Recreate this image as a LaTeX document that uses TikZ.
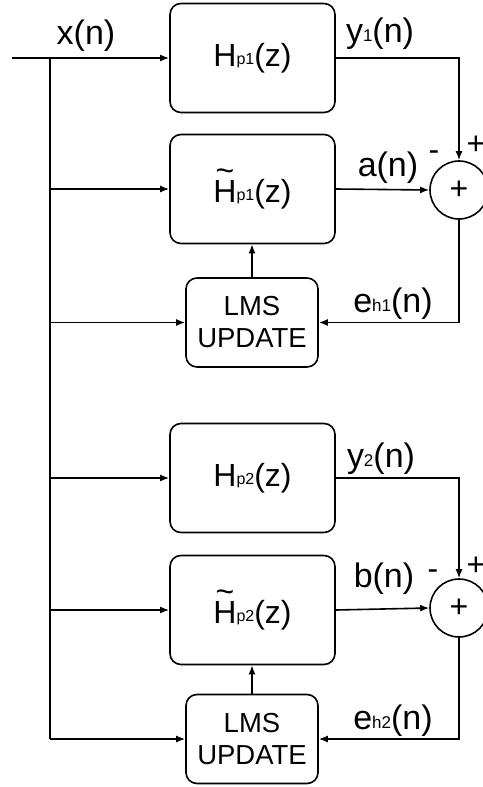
\documentclass[tikz,border=0pt]{standalone}
\usepackage{fontspec}
\setmainfont{Liberation Sans}
\usetikzlibrary{arrows.meta}
\newcommand\tH{{\setbox0\hbox{H}\rlap{\hbox to \wd0{\hss\raisebox{0.64em}{\char"007E}\hss}}H}}
\newcommand\sbx[1]{\raisebox{1.5pt}{\fontsize{16}{16}\selectfont #1}}
\newcommand\sbl[1]{\raisebox{1pt}{\fontsize{17}{17}\selectfont #1}}
\begin{document}
\begin{tikzpicture}[x=1pt,y=-1pt,
  blk/.style={draw,line width=1.6pt,rounded corners=11pt,minimum width=165pt,minimum height=109pt,inner sep=0pt,font=\fontsize{32}{36}\selectfont},
  lms/.style={draw,line width=1.6pt,rounded corners=11pt,minimum width=132pt,minimum height=89pt,inner sep=0pt,align=center,font=\fontsize{27.5}{32}\selectfont},
  sumc/.style={draw,circle,line width=1.6pt,minimum size=58pt,inner sep=0pt,font=\fontsize{32}{32}\selectfont},
  lbl/.style={font=\fontsize{34}{38}\selectfont,inner sep=0pt,anchor=base},
  sgn/.style={font=\fontsize{32}{32}\selectfont,inner sep=0pt},
  wire/.style={line width=1.6pt},
  arr/.style={wire,-{Latex[length=9pt,width=7pt]}}]
\useasboundingbox (0,0) rectangle (482,787);
% nodes
\node[blk] (Hp1) at (252.5,58) {H\sbx{p1}(z)};
\node[blk] (Ht1) at (252.5,189) {\tH\sbx{p1}(z)};
\node[lms] (L1) at (252,322.5) {LMS\\UPDATE};
\node[sumc] (S1) at (459,190) {+};
\node[blk] (Hp2) at (252.5,478) {H\sbx{p2}(z)};
\node[blk] (Ht2) at (252.5,610) {\tH\sbx{p2}(z)};
\node[lms] (L2) at (252,739) {LMS\\UPDATE};
\node[sumc] (S2) at (459,608) {+};
\coordinate (in) at (12,58);
\coordinate (bt) at (50,58);
\coordinate (bb) at (50,739);
% labels
\node[lbl] (lx) at (86,44) {x(n)};
\node[lbl] (ly1) at (380,42) {y\sbl{1}(n)};
\node[lbl] (la) at (388,176) {a(n)};
\node[sgn] (m1) at (434,156) {-};
\node[sgn] (p1) at (476,145) {+};
\node[lbl] (le1) at (393,312) {e\sbl{h1}(n)};
\node[lbl] (ly2) at (381,467) {y\sbl{2}(n)};
\node[lbl] (lb) at (384,587) {b(n)};
\node[sgn] (m2) at (433,575) {-};
\node[sgn] (p2) at (476,566) {+};
\node[lbl] (le2) at (393,729) {e\sbl{h2}(n)};
% wires
\draw[arr] (in) -- (Hp1.west);
\draw[wire] (bt) -- (bb);
\draw[arr] (bt |- Ht1.west) -- (Ht1.west);
\draw[arr] (bt |- L1.west) -- (L1.west);
\draw[arr] (bt |- Hp2.west) -- (Hp2.west);
\draw[arr] (bt |- Ht2.west) -- (Ht2.west);
\draw[arr] (bb) -- (L2.west);
\draw[arr] (Hp1.east) -| (S1.north);
\draw[arr] (Ht1.east) -- (S1.west);
\draw[arr] (S1.south) |- (L1.east);
\draw[arr] (L1.north) -- (L1.north |- Ht1.south);
\draw[arr] (Hp2.east) -| (S2.north);
\draw[arr] (Ht2.east) -- (S2.west);
\draw[arr] (S2.south) |- (L2.east);
\draw[arr] (L2.north) -- (L2.north |- Ht2.south);
\end{tikzpicture}
\end{document}
